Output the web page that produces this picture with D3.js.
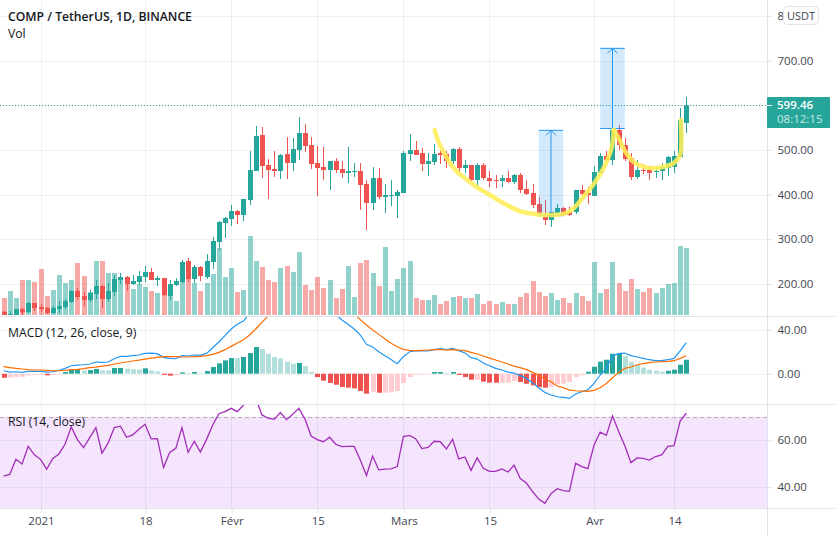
<!DOCTYPE html>
<html>
<head>
<meta charset="utf-8">
<script src="https://cdn.jsdelivr.net/npm/d3@7/dist/d3.min.js"></script>
<style>
html, body { margin: 0; padding: 0; background: #fff; }
svg { display: block; }
text { font-family: "Open Sans", sans-serif; }
</style>
</head>
<body>
<div id="chart"></div>
<script>
var opens = [138.1,130.6,130.6,144,137.3,157.5,148.5,146.3,135.1,144,
148.5,159.7,184.3,173.1,164.2,177.6,195.5,166.4,182.1,208.9,
215.6,200,204.4,215.6,226.8,208.9,213.4,173.1,197.7,204.4,
251.4,211.2,238,215.6,249.2,293.9,336.4,345.4,363.3,354.3,
387.9,452.8,533.3,466.2,457.2,452.8,490.8,470.7,499.7,537.8,
510.9,470.7,461.7,455,475.1,457.2,448.3,450.5,452.8,423.7,
381.2,437.1,394.6,396.8,396.8,403.5,490.8,499.7,493,468.4,
472.9,493,490.8,475.1,502,459.5,466.2,432.6,466.2,437.1,
432.6,430.4,437.1,428.2,443.9,412.6,403.6,379,350,343.2,
358.9,370.1,361.1,361.1,410.3,403.6,396.9,448.4,486.4,477.5,
544.6,511,481.9,439.4,455.1,455.1,450.6,452.8,459.5,461.8,484.2,560.2];

var closes = [130.6,132.9,144,136.6,157.5,146.3,144,135.1,146.3,150.7,
161.9,184.3,170.9,164.2,179.8,195.5,166.4,184.3,211.2,215.6,
200,206.7,217.9,226.8,208.9,213.4,175.4,200,206.7,249.2,
211.2,238,217.9,251.4,296.2,338.7,347.6,363.3,354.3,390.1,
455,531,464,455,452.8,488.6,470.7,502,537.8,508.7,
468.4,459.5,455,475.1,455,448.3,452.8,452.8,421.4,381.2,
437.1,394.6,399.1,399.1,405.8,493,499.7,488.6,468.4,475.1,
490.8,488.6,475.1,502,459.5,466.2,432.6,466.2,437.1,430.4,
430.4,437.1,428.2,443.8,410.3,401.4,376.8,356.6,343.2,361.1,
370.1,354.4,354.4,410.3,401.4,399.1,450.6,486.4,477.5,544.6,
511,479.7,439.4,455.1,452.8,448.4,452.8,461.8,484.2,486.4,566.9,599.46];

var highs = [138.1,139.6,144,146.3,159.7,157.5,155.2,148.5,150.7,161.9,
166.4,186.6,191,182.1,186.6,208.9,197.7,202.2,220.1,224.6,
217.9,220.1,229.1,240.2,235.8,217.9,213.4,208.9,213.4,253.7,
258.1,242.5,240.2,267.1,305.1,340.9,349.9,376.7,365.5,390.1,
497.5,553.4,551.2,479.6,497.5,490.8,528.8,526.6,573.6,557.9,
528.8,508.7,506.5,475.1,481.9,475.1,506.5,470.7,470.7,432.6,
461.7,459.5,423.7,432.6,410.3,497.5,535.5,519.9,504.2,493,
513.2,497.5,497.5,504.2,506.5,477.4,466.2,470.7,470.7,452.8,
443.8,443.8,452.8,446.1,448.4,432.7,423.7,394.7,387.9,361.1,
379,372.3,372.3,410.3,421.5,417.8,464,493.1,497.6,549.1,
555.8,526.7,493.1,477.5,468.5,464,464,470.7,486.4,497.6,593.8,618.4];

var lows = [130.6,130.6,130.6,130.6,135.1,139.6,137.3,132.9,132.9,135.1,
144,157.5,164.2,150.7,159.7,166.4,146.3,159.7,173.1,200,
184.3,197.7,197.7,204.4,208.9,195.5,173.1,164.2,195.5,202.2,
204.4,202.2,206.7,211.2,233.5,276,302.9,329.7,334.2,340.9,
376.7,452.8,437.1,390.1,439.3,434.9,434.9,452.8,477.4,495.3,
457.2,396.8,432.6,410.3,448.3,437.1,425.9,439.3,365.5,320.8,
365.5,390.1,358.8,374.5,347.6,403.5,475.1,488.6,452.8,441.6,
466.2,468.4,459.5,468.4,450.5,448.3,428.2,419.2,432.6,417,
414.7,417,425.9,423.7,403.6,399.1,370.1,354.4,332,327.6,
354.4,352.2,352.2,356.6,396.9,379,396.9,448.4,475.2,466.3,
499.8,475.2,432.7,435,446.1,432.7,437.2,432.7,441.7,448.4,481.9,537.9];

var volumes = [51,72,51,105,105,99,138,57,75,120,
96,105,156,117,69,162,162,126,126,114,
96,78,93,84,72,66,60,60,42,99,
114,96,72,96,123,201,114,141,69,75,
237,162,144,105,99,141,147,129,189,90,
75,114,81,105,51,78,147,54,156,165,
126,87,204,72,108,141,162,51,45,45,
60,33,42,54,57,51,51,63,33,42,
33,39,33,33,54,66,102,69,57,66,
45,51,36,66,57,42,159,66,78,159,
96,72,108,78,69,81,66,81,93,96,207,201];

var macdHist = [-3.7,-3.6,-3.1,-3.0,-1.5,-1.2,-1.1,-1.5,-1.2,-0.6,
1.5,3.7,4.0,3.1,3.3,4.3,3.1,3.0,5.2,5.3,
4.6,4.0,3.9,4.9,3.1,2.1,-1.2,-1.8,-1.5,1.2,
0.6,1.5,0.6,2.4,6.1,9.5,12.2,14.3,14.2,15.3,
18.9,24.4,22.6,18.3,15.3,14.0,11.0,9.2,9.8,7.0,
1.5,-3.1,-6.4,-8.5,-10.1,-12.2,-12.8,-13.4,-15.9,-18.3,
-16.5,-17.4,-17.4,-17.1,-15.9,-8.5,-3.1,-1.0,-0.6,-0.6,
1.5,1.5,0.6,1.5,-1.2,-3.1,-5.5,-5.5,-7.3,-8.2,
-8.3,-8.2,-8.2,-6.7,-7.6,-9.2,-10.7,-12.2,-12.8,-12.2,
-9.8,-9.2,-7.6,-3.1,-1.5,1.8,6.4,11.0,12.8,18.3,
18.4,15.9,11.0,8.2,5.5,3.7,2.7,1.8,2.7,3.7,8.2,12.8];

var macdLine = [2.7,1.5,1.8,1.2,2.1,2.1,2.1,1.5,1.8,3.1,
4.9,7.3,7.9,8.2,8.9,10.7,10.4,10.7,13.7,15.9,
15.9,16.5,17.1,18.6,18.9,18.3,15,14,13.7,16.5,
16.2,17.1,16.8,18.6,23.8,29,34.8,40.9,45.2,48.2,
55.3,65.9,69.6,72.7,75.1,76.6,78.2,77.5,75.1,72,
70.5,67.5,62.9,58.3,54.3,49.2,45.2,40.9,35.4,26.9,
24.4,20.1,16.5,13.1,9.2,15.6,20.1,20.8,20.8,20.8,
22,22.9,22,23.2,21.1,18.9,14.7,13.4,9.8,7.3,
4.9,3.4,1.5,0.6,-1.8,-4.3,-8.2,-12.8,-17.1,-19.5,
-21.1,-21.7,-22.6,-18.6,-16.5,-14.7,-8.9,-1.2,4.9,16.5,
18.3,18.9,16.5,15.3,14,12.8,11.9,11.9,12.8,14,20.8,28.4];

var signalLine = [6.4,5.5,4.9,4.3,3.7,3.4,3.4,3.1,2.7,2.7,
3.1,3.7,4,4.6,5.5,6.1,7,7.6,8.9,9.8,
10.7,11.6,12.5,13.4,14.3,15,15.6,15.6,15.6,15.3,
15.3,15.6,15.9,16.5,17.7,19.5,22,25,28.1,31.1,
35.4,40.9,47,52.8,58.3,62.9,66.6,69.6,72,73.3,
73.9,72.7,71.4,69,66.6,62.3,58.3,54.6,49.5,44.6,
40,36,31.8,27.8,24.7,22.3,21.4,21.1,21.4,21.7,
22,22,21.7,22,21.7,21.1,19.5,18,16.2,14.3,
12.5,10.7,8.9,7,5.5,3.7,1.2,-1.2,-4.9,-7.3,
-11.3,-12.8,-15,-15.6,-15.9,-16.2,-15.3,-12.8,-8.9,-3.7,
1.2,4.9,6.1,8.2,9.2,10.1,10.7,11,11.3,11.9,14,16.5];

var rsiValues = [44.8,45.5,51.9,49.9,57.4,53.8,51.9,47.7,52.3,54.2,
58.4,65.7,60.3,56.9,61.1,65.4,54.5,58.9,65.4,66,
61.3,62.3,64.7,66.8,60.6,60.7,48.4,54.8,56.6,65.4,
54.9,59.6,55,60.4,66.5,71.3,72.2,73.6,72.2,75,
79.3,77.9,70.8,69.4,68.9,71.8,68.8,71.1,73.6,69.1,
61.8,60.3,59.4,61.3,58.3,57.3,57.4,57.4,51.6,45,
53.3,47.4,47.7,47.8,48.8,61.6,62.1,60.7,56.5,57,
59.6,59.4,56.3,60.4,52.1,52.9,47.2,52.5,48.1,46.8,
46.8,47.8,46.5,49.4,43.7,41.8,38.2,35,33.2,37.3,
39.4,38.6,38.3,50.2,48.8,47.9,58,63.5,62.1,70.4,
63.7,57.7,50.5,52.5,52.3,51.6,53.1,53.8,57.4,57.7,68.2,71.5];

// index of first candle = 26 Dec 2020
var dateTicks = [6, 23, 37, 51, 65, 79, 96, 109];
var dateLabels = ["2021", "18", "Févr", "15", "Mars", "15", "Avr", "14"];
var priceTicks = [200, 300, 400, 500, 600, 700, 800];
var macdTicks = [0, 40];
var rsiTicks = [40, 60];

// drawn annotations, [candle index, price]
var cupOne = [[70.1,544.5],[70.7,518.3],[71.5,496],[72.6,470],[73.7,451.2],[75.4,432.7],[77,416.3],[79.1,399.1],[81.3,380.5],[84,362.6],[85.6,358.2],[87.3,355],[89.2,354.4],[91.3,358.2],[92.7,369.4],[94.3,395.3],[96.2,428.9],[97.8,466.2],[98.9,507.2],[99.2,544.5]];
var cupTwo = [[99.2,544.5],[100,526],[101.1,496],[102.4,473.6],[104,462.4],[105.7,458.8],[107.3,462.4],[108.9,470],[110,488.6],[110.2,522.1],[110.1,566.9]];
var measureBoxes = [
    {from: 87, to: 91, low: 352.8, high: 543.8},
    {from: 97, to: 101, low: 547.9, high: 727.2}
];

var lastPrice = 599.46;
var lastLabel = "599.46";
var countdown = "08:12:15";

var width = 835, height = 536;
var axisX = 767;
var green = "#26a69a", red = "#ef5350";
var lineColor = "#e0e3eb", textColor = "#434651";
var axisFont = "11.5px";

var svg = d3.select("#chart").append("svg")
    .attr("width", width)
    .attr("height", height);

var xScale = d3.scaleLinear().domain([0, 111]).range([3.6, 686.3]);
var yPrice = d3.scaleLinear().domain([200, 700]).range([284, 60.5]);
var yVol = d3.scaleLinear().domain([0, 300]).range([315, 215]);
var yMacd = d3.scaleLinear().domain([0, 40]).range([373.7, 330]);
var yRsi = d3.scaleLinear().domain([40, 60]).range([487.3, 440.3]);

var defs = svg.append("defs");
function addClip(id, y0, y1) {
    defs.append("clipPath").attr("id", id).append("rect")
        .attr("x", 0).attr("y", y0).attr("width", axisX).attr("height", y1 - y0);
}
addClip("clipPrice", 0, 315);
addClip("clipMacd", 317, 404);
addClip("clipRsi", 405, 508);

// rsi band goes under the grid
svg.append("rect")
    .attr("x", 0).attr("width", axisX)
    .attr("y", yRsi(70)).attr("height", 508 - yRsi(70))
    .attr("fill", "#f4e5fd");

// vertical grid
var grid = svg.append("g");
grid.selectAll(".vgrid").data(dateTicks).enter().append("line")
    .attr("x1", function(d) { return Math.round(xScale(d)) + 0.5; })
    .attr("x2", function(d) { return Math.round(xScale(d)) + 0.5; })
    .attr("y1", 0).attr("y2", 508)
    .attr("stroke", "#000").attr("stroke-opacity", 0.06);

function hGrid(ticks, scale) {
    grid.selectAll(null).data(ticks).enter().append("line")
        .attr("x1", 0).attr("x2", axisX)
        .attr("y1", function(d) { return Math.round(scale(d)) + 0.5; })
        .attr("y2", function(d) { return Math.round(scale(d)) + 0.5; })
        .attr("stroke", "#000").attr("stroke-opacity", 0.06);
}
hGrid(priceTicks, yPrice);
hGrid(macdTicks, yMacd);
hGrid(rsiTicks, yRsi);

// price pane
var pricePane = svg.append("g").attr("clip-path", "url(#clipPrice)");
var idx = d3.range(closes.length);
function isUp(i) { return closes[i] >= opens[i]; }

pricePane.selectAll(".vol").data(idx).enter().append("rect")
    .attr("x", function(i) { return Math.round(xScale(i)) - 2; })
    .attr("width", 5)
    .attr("y", function(i) { return yVol(volumes[i]); })
    .attr("height", function(i) { return yVol(0) - yVol(volumes[i]); })
    .attr("fill", function(i) { return isUp(i) ? green : red; })
    .attr("fill-opacity", 0.5);

pricePane.append("line")
    .attr("x1", 0).attr("x2", axisX)
    .attr("y1", Math.round(yPrice(lastPrice)) + 0.5)
    .attr("y2", Math.round(yPrice(lastPrice)) + 0.5)
    .attr("stroke", green)
    .attr("stroke-dasharray", "1 2");

pricePane.selectAll(".wick").data(idx).enter().append("line")
    .attr("x1", function(i) { return Math.round(xScale(i)) + 0.5; })
    .attr("x2", function(i) { return Math.round(xScale(i)) + 0.5; })
    .attr("y1", function(i) { return yPrice(highs[i]); })
    .attr("y2", function(i) { return yPrice(lows[i]); })
    .attr("stroke", function(i) { return isUp(i) ? green : red; });

pricePane.selectAll(".body").data(idx).enter().append("rect")
    .attr("x", function(i) { return Math.round(xScale(i)) - 2; })
    .attr("width", 5)
    .attr("y", function(i) { return yPrice(Math.max(opens[i], closes[i])); })
    .attr("height", function(i) { return Math.max(1, Math.abs(yPrice(opens[i]) - yPrice(closes[i]))); })
    .attr("fill", function(i) { return isUp(i) ? green : red; });

// measure boxes with arrows
measureBoxes.forEach(function(b) {
    var x0 = xScale(b.from), x1 = xScale(b.to), xm = xScale((b.from + b.to) / 2);
    var top = yPrice(b.high), bottom = yPrice(b.low);
    pricePane.append("rect")
        .attr("x", x0).attr("y", top)
        .attr("width", x1 - x0).attr("height", bottom - top)
        .attr("fill", "#2196f3").attr("fill-opacity", 0.2);
    [top, bottom].forEach(function(y) {
        pricePane.append("line")
            .attr("x1", x0).attr("x2", x1).attr("y1", y).attr("y2", y)
            .attr("stroke", "#2196f3").attr("stroke-width", 1);
    });
    pricePane.append("line")
        .attr("x1", xm).attr("x2", xm).attr("y1", top).attr("y2", bottom)
        .attr("stroke", "#2196f3").attr("stroke-width", 1);
    pricePane.append("path")
        .attr("d", "M" + (xm - 5) + "," + (top + 5) + "L" + xm + "," + top + "L" + (xm + 5) + "," + (top + 5))
        .attr("fill", "none").attr("stroke", "#2196f3").attr("stroke-width", 1);
});

// yellow hand drawn cups
var cupLine = d3.line()
    .x(function(d) { return xScale(d[0]); })
    .y(function(d) { return yPrice(d[1]); })
    .curve(d3.curveCatmullRom);
[cupOne, cupTwo].forEach(function(c) {
    pricePane.append("path")
        .attr("d", cupLine(c))
        .attr("fill", "none")
        .attr("stroke", "#ffee58")
        .attr("stroke-opacity", 0.88)
        .attr("stroke-width", 4.5)
        .attr("stroke-linecap", "round");
});

// macd pane
var macdPane = svg.append("g").attr("clip-path", "url(#clipMacd)");
function histColor(i) {
    var prev = i > 0 ? macdHist[i - 1] : macdHist[i] + 1;
    if (macdHist[i] >= 0) return macdHist[i] >= prev ? green : "#b2dfdb";
    return macdHist[i] < prev ? red : "#ffcdd2";
}
macdPane.selectAll(".hist").data(idx).enter().append("rect")
    .attr("x", function(i) { return Math.round(xScale(i)) - 2; })
    .attr("width", 5)
    .attr("y", function(i) { return Math.min(yMacd(0), yMacd(macdHist[i])); })
    .attr("height", function(i) { return Math.abs(yMacd(macdHist[i]) - yMacd(0)); })
    .attr("fill", histColor);

var macdPath = d3.line()
    .x(function(d, i) { return xScale(i); })
    .y(function(d) { return yMacd(d); });
macdPane.append("path").attr("d", macdPath(macdLine))
    .attr("fill", "none").attr("stroke", "#2196f3").attr("stroke-width", 1.2);
macdPane.append("path").attr("d", macdPath(signalLine))
    .attr("fill", "none").attr("stroke", "#ff6d00").attr("stroke-width", 1.2);

// rsi pane
var rsiPane = svg.append("g").attr("clip-path", "url(#clipRsi)");
rsiPane.append("line")
    .attr("x1", 0).attr("x2", axisX)
    .attr("y1", Math.round(yRsi(70)) + 0.5).attr("y2", Math.round(yRsi(70)) + 0.5)
    .attr("stroke", "#b5aebc").attr("stroke-dasharray", "4 3");
var rsiPath = d3.line()
    .x(function(d, i) { return xScale(i); })
    .y(function(d) { return yRsi(d); });
rsiPane.append("path").attr("d", rsiPath(rsiValues))
    .attr("fill", "none").attr("stroke", "#a32cb8").attr("stroke-width", 1.3);

// pane borders
[316, 404, 508].forEach(function(y) {
    svg.append("line").attr("x1", 0).attr("x2", width)
        .attr("y1", y + 0.5).attr("y2", y + 0.5)
        .attr("stroke", lineColor);
});
svg.append("line").attr("x1", axisX + 0.5).attr("x2", axisX + 0.5)
    .attr("y1", 0).attr("y2", height)
    .attr("stroke", lineColor);

// right axes
function rightAxis(scale, ticks, fmt) {
    var g = svg.append("g")
        .attr("transform", "translate(" + (axisX + 0.5) + ",0)")
        .call(d3.axisRight(scale).tickValues(ticks).tickSize(5).tickPadding(5)
            .tickFormat(fmt || d3.format(".2f")));
    g.select(".domain").remove();
    g.selectAll("line").attr("stroke", lineColor);
    g.selectAll("text").attr("fill", textColor).style("font-size", axisFont)
        .style("font-family", '"Open Sans", sans-serif');
    return g;
}
// only the "8" of 800.00 shows beside the USDT pill
rightAxis(yPrice, priceTicks.filter(function(d) { return d != 600; }), function(d) {
    return d == 800 ? "8" : d3.format(".2f")(d);
});
rightAxis(yMacd, macdTicks);
rightAxis(yRsi, rsiTicks);

// time axis
var timeAxis = svg.append("g")
    .attr("transform", "translate(0.5,508)")
    .call(d3.axisBottom(xScale).tickValues(dateTicks).tickSize(5).tickPadding(4)
        .tickFormat(function(d, i) { return dateLabels[i]; }));
timeAxis.select(".domain").remove();
timeAxis.selectAll("line").attr("stroke", lineColor);
timeAxis.selectAll("text").attr("fill", textColor).style("font-size", axisFont)
    .style("font-family", '"Open Sans", sans-serif');

// USDT pill
svg.append("rect")
    .attr("x", 783.5).attr("y", 6.5).attr("width", 35).attr("height", 18).attr("rx", 4)
    .attr("fill", "#fff").attr("stroke", lineColor);
svg.append("text")
    .attr("x", 801).attr("y", 20)
    .attr("text-anchor", "middle").attr("fill", textColor)
    .style("font-size", "11px")
    .text("USDT");

// last price tag
svg.append("rect")
    .attr("x", axisX).attr("y", yPrice(lastPrice) - 8.5)
    .attr("width", 63).attr("height", 31).attr("rx", 1)
    .attr("fill", green);
svg.append("line")
    .attr("x1", axisX).attr("x2", axisX + 5)
    .attr("y1", Math.round(yPrice(lastPrice)) + 0.5).attr("y2", Math.round(yPrice(lastPrice)) + 0.5)
    .attr("stroke", "#fff");
var tag = svg.append("text")
    .attr("x", 777).attr("y", yPrice(lastPrice) + 4)
    .style("font-size", axisFont);
tag.append("tspan")
    .attr("fill", "#fff").style("font-weight", 600)
    .text(lastLabel);
tag.append("tspan")
    .attr("x", 777).attr("dy", 14)
    .attr("fill", "#c8ebe7")
    .text(countdown);

// pane titles
function paneTitle(str, y, weight) {
    svg.append("text")
        .attr("x", 8).attr("y", y)
        .attr("fill", "#131722")
        .style("font-size", "12.2px")
        .style("font-weight", weight)
        .text(str);
}
paneTitle("COMP / TetherUS, 1D, BINANCE", 21, 600);
paneTitle("Vol", 38, 400);
paneTitle("MACD (12, 26, close, 9)", 337, 400);
paneTitle("RSI (14, close)", 426, 400);
</script>
</body>
</html>
